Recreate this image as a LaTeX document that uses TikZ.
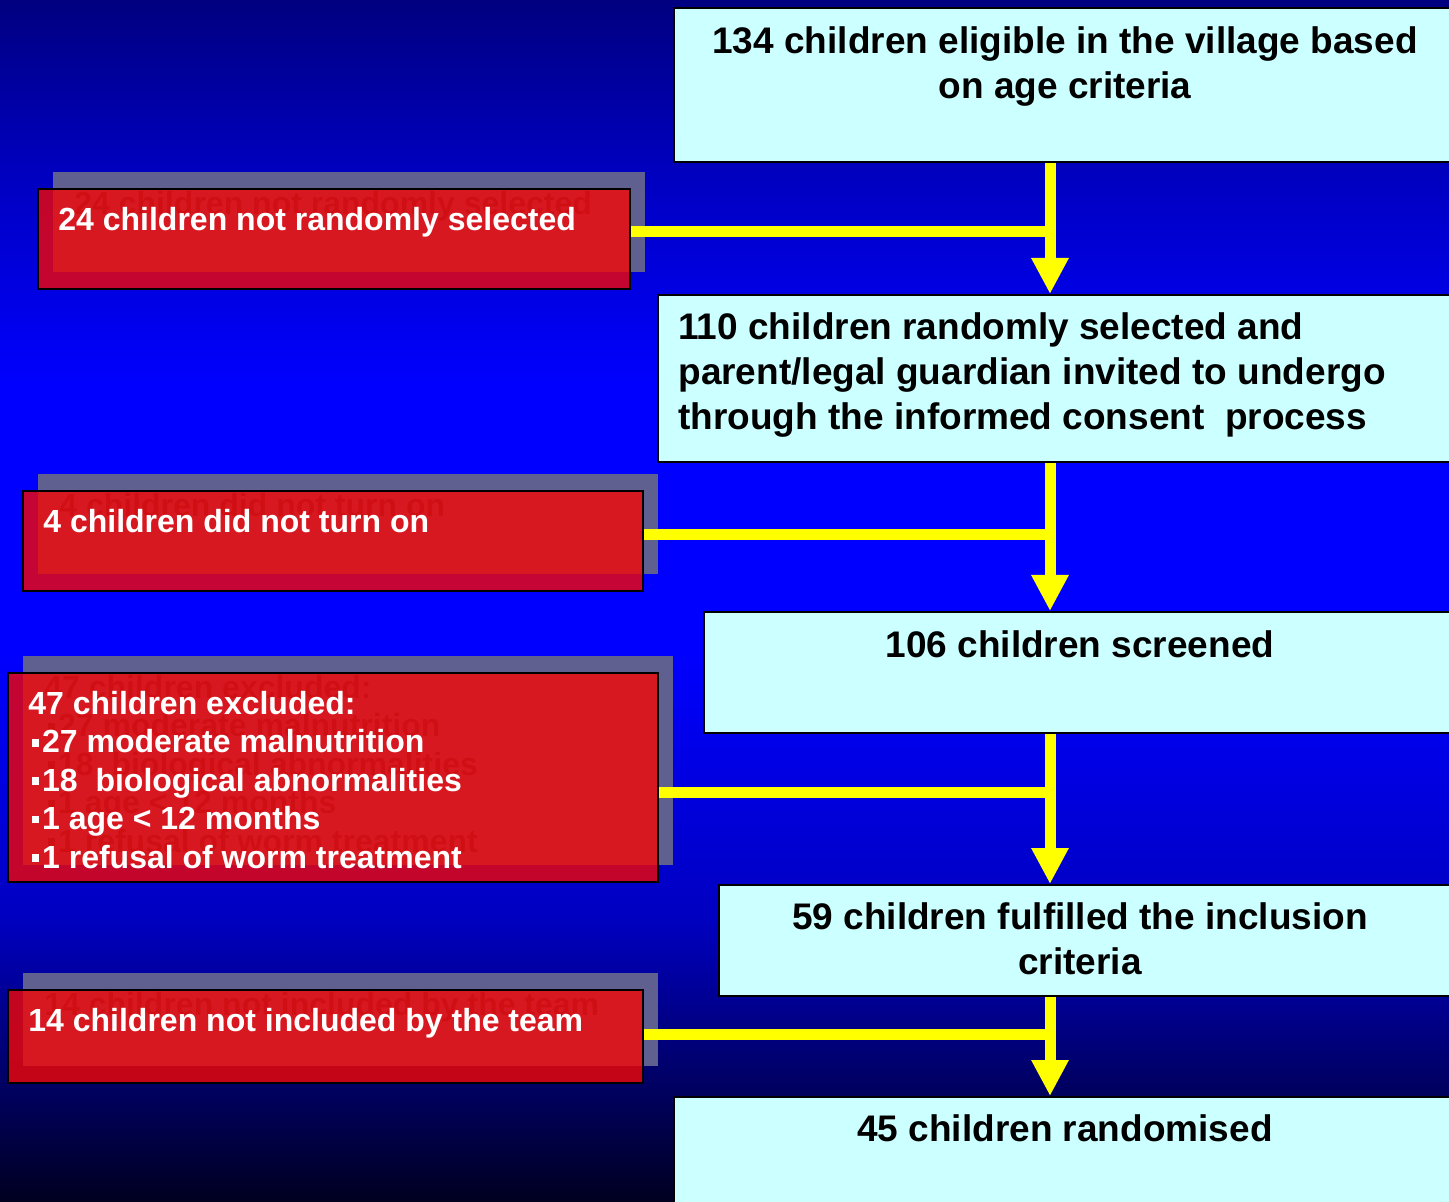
\documentclass[tikz,border=0pt]{standalone}
\usepackage{fontspec}
\setmainfont{Liberation Sans}
\usetikzlibrary{arrows.meta,positioning}

\definecolor{bgtop}{HTML}{000080}
\definecolor{bgupper}{HTML}{0000B8}
\definecolor{bgblue}{HTML}{0000FF}
\definecolor{bglower}{HTML}{0000C0}
\definecolor{bgbot}{HTML}{000020}
\definecolor{lightcyan}{HTML}{CCFFFF}
\definecolor{boxred}{HTML}{F50704}
\definecolor{shadowgrey}{HTML}{606090}
\definecolor{ghost}{HTML}{3C325A}
\definecolor{flowyellow}{HTML}{FFFF00}

\pgfdeclareverticalshading{bgfade}{100bp}{color(0bp)=(bgbot); color(25bp)=(bgbot); color(36.75bp)=(bglower); color(48bp)=(bgblue); color(59bp)=(bgblue); color(68.75bp)=(bgupper); color(75bp)=(bgtop); color(100bp)=(bgtop)}

\newcommand{\sqbul}{\kern0.1em\rule[0.2em]{0.24em}{0.24em}\kern0.09em}

\tikzset{
  lightbox/.style={draw=black, line width=1pt, fill=lightcyan, anchor=north west, inner sep=0pt},
  shadowbox/.style={fill=shadowgrey, anchor=north west, inner sep=0pt, xshift=8pt, yshift=8pt},
  redbox/.style={draw=black, line width=1pt, fill=boxred, fill opacity=0.8, anchor=north west, inner sep=0pt},
  lighttext/.style={anchor=north, inner sep=0pt, align=center, font=\fontsize{18.5pt}{22.5pt}\selectfont\bfseries},
  redtext/.style={anchor=north west, inner sep=0pt, align=left, text=white, font=\fontsize{16pt}{19.2pt}\selectfont\bfseries},
  ghosttext/.style={redtext, text=ghost, xshift=8pt, yshift=8pt},
  feed/.style={draw=flowyellow, line width=5.5pt},
  flow/.style={draw=flowyellow, line width=5.5pt, -{Triangle[width=17.5pt,length=18pt]}}
}

\begin{document}
\begin{tikzpicture}[x=0.5pt,y=-0.5pt]
\useasboundingbox (0,0) rectangle (1449,1202);
\clip (0,0) rectangle (1449,1202);
\shade[shading=bgfade] (0,0) rectangle (1449,1202);

% main column
\node[lightbox, minimum width=393.5pt, minimum height=77pt] (elig) at (673,7) {};
\node[lighttext] (elig-t) at (1065,26) {134 children eligible in the village based\\on age criteria};
\node[lightbox, minimum width=401.5pt, minimum height=83.5pt] (sel) at (657,294) {};
\node[lighttext, anchor=north west, align=left] (sel-t) at (678,312) {110 children randomly selected and\\parent/legal guardian invited to undergo\\through the informed consent\ \ process};
\node[lightbox, minimum width=378.5pt, minimum height=60.5pt] (scr) at (703,611) {};
\node[lighttext] (scr-t) at (1080,630) {106 children screened};
\node[lightbox, minimum width=371pt, minimum height=55.5pt] (incl) at (718,884) {};
\node[lighttext] (incl-t) at (1080,902) {59 children fulfilled the inclusion\\criteria};
\node[lightbox, minimum width=393.5pt, minimum height=60pt] (rand) at (673,1096) {};
\node[lighttext] (rand-t) at (1065,1114) {45 children randomised};

% excluded boxes
\node[shadowbox, minimum width=296pt, minimum height=50pt] (r1-s) at (37,188) {};
\node[ghosttext] (r1-g) at (58,207) {24 children not randomly selected};
\node[redbox, minimum width=296pt, minimum height=50pt] (r1) at (37,188) {};
\node[redtext] (r1-t) at (58,207) {24 children not randomly selected};

\node[shadowbox, minimum width=310pt, minimum height=50pt] (r2-s) at (22,490) {};
\node[ghosttext] (r2-g) at (43,509) {4 children did not turn on};
\node[redbox, minimum width=310pt, minimum height=50pt] (r2) at (22,490) {};
\node[redtext] (r2-t) at (43,509) {4 children did not turn on};

\node[shadowbox, minimum width=325pt, minimum height=104.5pt] (r3-s) at (7,672) {};
\node[ghosttext] (r3-g) at (28,691) {47 children excluded:\\\sqbul27 moderate malnutrition\\\sqbul18\ \ biological abnormalities\\\sqbul1 age < 12 months\\\sqbul1 refusal of worm treatment};
\node[redbox, minimum width=325pt, minimum height=104.5pt] (r3) at (7,672) {};
\node[redtext] (r3-t) at (28,691) {47 children excluded:\\\sqbul27 moderate malnutrition\\\sqbul18\ \ biological abnormalities\\\sqbul1 age < 12 months\\\sqbul1 refusal of worm treatment};

\node[shadowbox, minimum width=317.5pt, minimum height=46.5pt] (r4-s) at (7,989) {};
\node[ghosttext] (r4-g) at (28,1008) {14 children not included by the team};
\node[redbox, minimum width=317.5pt, minimum height=46.5pt] (r4) at (7,989) {};
\node[redtext] (r4-t) at (28,1008) {14 children not included by the team};

% connectors
\coordinate (axis) at (1050,0);
\coordinate (j1) at (1050,232);
\coordinate (j2) at (1050,535);
\coordinate (j3) at (1050,792);
\coordinate (j4) at (1050,1034);
\draw[feed] (r1.east |- j1) -- (j1);
\draw[feed] (r2.east |- j2) -- (j2);
\draw[feed] (r3.east |- j3) -- (j3);
\draw[feed] (r4.east |- j4) -- (j4);
\draw[flow] (elig.south -| axis) -- (sel.north -| axis);
\draw[flow] (sel.south -| axis) -- (scr.north -| axis);
\draw[flow] (scr.south -| axis) -- (incl.north -| axis);
\draw[flow] (incl.south -| axis) -- (rand.north -| axis);
\end{tikzpicture}
\end{document}
